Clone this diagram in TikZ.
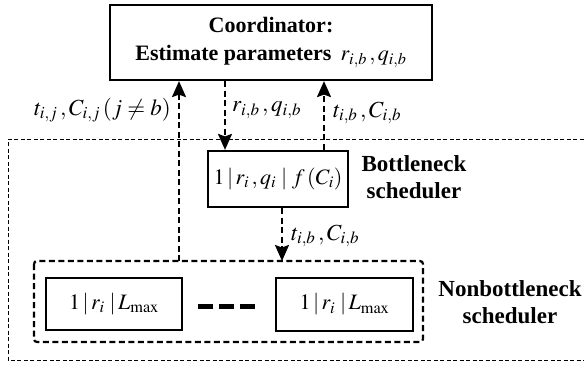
\documentclass[tikz,border=0pt]{standalone}
\usepackage{mathptmx}
\usepackage{fontspec}
\setmainfont{Liberation Serif}
\usetikzlibrary{arrows.meta}

\begin{document}
\begin{tikzpicture}[x=1pt,y=-1pt,font=\fontsize{22}{26}\selectfont\bfseries,
	box/.style={draw,line width=2.2pt,inner sep=0pt},
	nbbox/.style={draw,line width=2.2pt,dash pattern=on 6pt off 3.5pt,rounded corners=3pt},
	region/.style={line width=1pt,dash pattern=on 4pt off 2.5pt},
	flow/.style={line width=2.2pt,dash pattern=on 6pt off 3.5pt,-{Stealth[length=16pt,width=14pt,inset=2.5pt]}},
	side/.style={align=center,font=\fontsize{23}{27}\selectfont\bfseries},
	lbl/.style={inner sep=2pt,font=\fontsize{23}{27}\selectfont}]
	\useasboundingbox (0,0) rectangle (584,365);
	\draw[region] (590,139) -- (8,139) -- (8,360) -- (590,360);
	\node[box,minimum width=322pt,minimum height=75pt,align=center] (coord) at (271,42.5) {Coordinator:\\[2pt]Estimate parameters\, $r_{i,b}\,,q_{i,b}$};
	\node[box,minimum width=140pt,minimum height=56pt] (bneck) at (278,179) {$1\,|\,r_i\,,q_i\;|\;f\,(C_i)$};
	\draw[nbbox] (34,261) rectangle (423,342);
	\coordinate (nbtop) at (228.5,261);
	\node[box,minimum width=136pt,minimum height=52pt] (nb1) at (114,304) {$1\,|\,r_i\;|\,L_{\max}$};
	\node[box,minimum width=137pt,minimum height=53pt] (nb2) at (344.5,304.5) {$1\,|\,r_i\;|\,L_{\max}$};
	\foreach \x in {198,219,240} \draw[line width=5pt] (\x,306) -- ++(15,0);
	\node[side] (bnecktxt) at (414,177) {Bottleneck\\scheduler};
	\node[side] (nbtxt) at (510,302) {Nonbottleneck\\scheduler};
	\draw[flow] ([xshift=-92pt]coord.south |- nbtop) -- ([xshift=-92pt]coord.south);
	\draw[flow] ([xshift=-46pt]coord.south) -- ([xshift=-46pt]coord.south |- bneck.north);
	\draw[flow] ([xshift=53pt]coord.south |- bneck.north) -- ([xshift=53pt]coord.south);
	\draw[flow] ([xshift=4pt]bneck.south) -- ([xshift=4pt]bneck.south |- nbtop);
	\node[lbl,anchor=east] (lblj) at (173,110) {$t_{i,j}\,,C_{i,j}\,(j\neq b)$};
	\node[lbl,anchor=west] (lblrq) at (230,110) {$r_{i,b}\,,q_{i,b}$};
	\node[lbl,anchor=west] (lbltc) at (331,113) {$t_{i,b}\,,C_{i,b}$};
	\node[lbl,anchor=west] (lbltcb) at (289,236) {$t_{i,b}\,,C_{i,b}$};
\end{tikzpicture}
\end{document}
